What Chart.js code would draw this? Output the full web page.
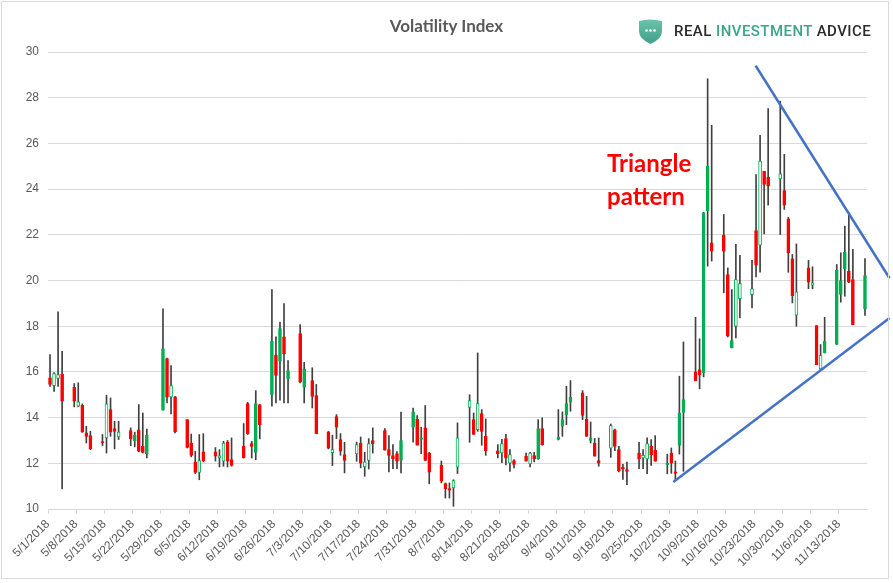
<!DOCTYPE html>
<html>
<head>
<meta charset="utf-8">
<script src="https://cdn.jsdelivr.net/npm/chart.js@4.4.1/dist/chart.umd.min.js"></script>
<style>
  html, body { margin: 0; padding: 0; background: #fff; }
  #wrap { position: relative; width: 893px; height: 583px; overflow: hidden; background: #fff; }
  #frame { position: absolute; left: 1px; top: 1px; width: 886px; height: 576px; border: 1px solid #d9d9d9; pointer-events: none; }
  #chart { position: absolute; left: 0; top: 0; }
  #title { position: absolute; left: 0; top: 15px; width: 893px; text-align: center; font: bold 17px Lato, "Open Sans", sans-serif; color: #595959; }
  #logo { position: absolute; left: 637px; top: 19px; height: 25px; }
  #logotext { position: absolute; left: 674px; top: 22px; font: 500 15px Roboto, sans-serif; letter-spacing: 0.45px; color: #2b2b2b; white-space: nowrap; }
  #logotext span { color: #3aa58a; }
  #note { position: absolute; left: 607px; top: 146px; font: bold 24px Lato, "Liberation Sans", sans-serif; color: #ff0000; line-height: 33px; }
</style>
</head>
<body>
<div id="wrap">
  <canvas id="chart" width="893" height="583"></canvas>
  <div id="title">Volatility Index</div>
  <svg id="logo" width="27" height="25" viewBox="0 0 27 25">
    <defs>
      <linearGradient id="g" x1="0" y1="0" x2="0" y2="1">
        <stop offset="0" stop-color="#69c4aa"/>
        <stop offset="1" stop-color="#3f9f88"/>
      </linearGradient>
    </defs>
    <path d="M2 2 Q13 -1 25 2 L25 12 Q25 20 13.5 25 Q2 20 2 12 Z" fill="url(#g)"/>
    <circle cx="9.5" cy="11.5" r="1.3" fill="#fff"/>
    <circle cx="13.5" cy="11.5" r="1.3" fill="#fff"/>
    <circle cx="17.5" cy="11.5" r="1.3" fill="#fff"/>
  </svg>
  <div id="logotext">REAL <span>INVESTMENT</span> ADVICE</div>
  <div id="note">Triangle<br>pattern</div>
  <div id="frame"></div>
</div>
<script>
// ---- Data ----
const year = 2018;
const dates = [
  '5/1','5/2','5/3','5/4','5/7','5/8','5/9','5/10','5/11','5/14','5/15','5/16','5/17','5/18',
  '5/21','5/22','5/23','5/24','5/25','5/29','5/30','5/31','6/1','6/4','6/5','6/6','6/7','6/8',
  '6/11','6/12','6/13','6/14','6/15','6/18','6/19','6/20','6/21','6/22','6/25','6/26','6/27','6/28','6/29',
  '7/2','7/3','7/5','7/6','7/9','7/10','7/11','7/12','7/13','7/16','7/17','7/18','7/19','7/20',
  '7/23','7/24','7/25','7/26','7/27','7/30','7/31','8/1','8/2','8/3','8/6','8/7','8/8','8/9','8/10',
  '8/13','8/14','8/15','8/16','8/17','8/20','8/21','8/22','8/23','8/24','8/27','8/28','8/29','8/30','8/31',
  '9/4','9/5','9/6','9/7','9/10','9/11','9/12','9/13','9/14','9/17','9/18','9/19','9/20','9/21',
  '9/24','9/25','9/26','9/27','9/28','10/1','10/2','10/3','10/4','10/5','10/8','10/9','10/10','10/11','10/12',
  '10/15','10/16','10/17','10/18','10/19','10/22','10/23','10/24','10/25','10/26','10/29','10/30','10/31','11/1','11/2',
  '11/5','11/6','11/7','11/8','11/9','11/12','11/13','11/14','11/15','11/16','11/19'
];
const open = [
  15.74,15.40,15.72,15.91,15.33,14.50,14.54,13.33,13.21,12.95,13.11,14.35,13.52,13.15,
  13.43,12.99,13.47,12.74,12.42,14.32,16.58,14.91,14.91,13.91,12.89,12.06,11.60,12.50,
  12.50,12.23,12.09,12.93,12.16,12.74,14.61,12.86,12.48,14.57,15.00,16.72,16.47,17.53,15.69,
  17.68,15.33,15.62,14.96,13.37,12.47,14.04,13.04,12.38,12.41,12.88,11.84,12.13,12.99,
  13.43,12.60,12.34,12.42,12.13,13.58,13.94,13.04,13.55,12.45,11.91,11.11,10.89,10.92,11.83,
  14.45,13.91,13.47,14.18,13.18,12.55,12.45,13.08,12.01,12.12,12.31,11.97,12.34,12.20,13.52,
  13.04,13.62,14.13,14.67,15.08,13.94,13.00,12.88,12.12,12.66,13.47,12.60,11.82,11.72,
  12.45,12.23,12.19,12.74,12.57,11.94,12.45,11.63,12.78,14.23,16.00,16.10,15.96,23.04,21.65,
  21.99,20.26,17.05,18.00,19.20,19.39,22.19,21.55,24.78,24.53,24.45,23.94,22.70,20.95,18.48,
  20.55,19.80,18.03,16.13,16.83,17.20,19.39,20.51,20.41,20.04,18.76
];
const high = [
  16.76,15.97,18.63,16.90,15.49,15.52,14.60,13.62,13.40,13.26,14.98,14.86,13.84,13.84,
  13.55,13.36,14.57,14.20,13.50,18.76,16.61,16.28,14.93,13.91,13.28,12.53,13.26,13.30,
  12.69,12.60,12.96,13.00,13.11,13.74,14.67,12.96,15.18,14.57,19.60,17.53,18.18,18.99,16.50,
  18.07,16.42,16.18,15.45,13.40,13.23,14.13,13.30,12.92,12.93,13.15,12.48,13.08,13.55,
  13.52,13.21,12.82,12.51,14.24,14.42,14.09,13.58,14.53,12.48,12.10,11.14,11.14,11.28,13.77,
  15.00,14.20,16.83,14.35,13.94,12.82,13.05,13.27,12.60,12.16,12.45,12.48,12.48,13.91,13.99,
  14.35,14.25,15.37,15.62,15.18,14.93,13.81,13.09,13.11,13.72,13.50,12.74,11.96,12.05,
  12.92,12.60,13.11,13.04,13.21,12.40,12.67,12.10,15.81,17.31,18.39,17.45,22.99,28.83,26.79,
  22.89,20.55,19.60,21.58,21.10,20.88,24.64,26.35,24.78,27.52,27.85,25.52,22.77,21.14,21.60,
  20.88,20.60,18.03,17.20,18.39,20.70,21.21,22.38,22.96,21.36,20.96
];
const low = [
  15.37,15.15,15.37,10.88,14.47,14.47,13.36,12.89,12.60,12.77,12.45,13.18,12.63,13.04,
  12.77,12.72,12.50,12.45,12.23,14.32,14.64,14.16,13.33,12.67,12.28,11.55,11.28,12.06,
  12.10,11.84,11.87,11.84,11.87,12.23,13.26,12.23,12.16,13.07,14.50,14.64,14.76,14.64,14.64,
  15.52,14.64,14.42,13.30,12.63,11.90,13.08,12.35,11.58,12.09,11.80,11.43,11.75,12.45,
  12.57,11.62,11.77,11.77,11.58,12.92,12.79,12.42,12.11,11.10,11.14,10.48,10.48,10.12,11.55,
  12.92,13.26,13.40,12.79,12.35,12.23,12.03,11.93,11.64,11.80,12.09,11.84,12.06,12.17,12.79,
  13.02,13.18,13.69,14.28,13.91,13.18,12.89,12.31,11.87,12.26,12.55,11.62,11.30,11.07,
  11.77,11.77,11.55,11.91,12.09,11.54,11.56,11.25,12.40,11.65,15.62,15.26,15.78,20.63,20.85,
  19.46,17.53,17.05,17.49,18.36,18.80,20.16,20.37,22.04,23.30,22.01,23.11,20.36,19.02,18.00,
  19.64,19.64,16.32,16.10,16.83,17.20,19.05,19.31,19.90,18.07,18.47
];
const close = [
  15.45,15.93,15.88,14.72,14.72,14.69,13.36,13.18,12.63,12.89,14.60,13.36,13.40,13.37,
  13.07,13.23,12.53,12.48,13.23,17.01,14.89,15.40,13.37,12.70,12.35,11.60,12.12,12.12,
  12.31,12.33,12.89,12.09,11.91,12.23,13.30,12.74,14.61,13.69,17.34,15.85,17.90,16.80,16.06,
  15.55,16.13,14.93,13.30,12.66,12.60,13.58,12.53,12.13,12.82,12.01,12.06,12.86,12.85,
  12.57,12.35,12.20,12.09,12.99,14.25,12.79,13.12,12.13,11.61,11.22,10.88,10.82,11.24,13.12,
  14.74,13.26,14.61,13.40,12.55,12.42,12.86,12.22,12.38,11.95,12.09,12.45,12.20,13.52,12.82,
  13.14,13.91,14.61,14.89,14.10,13.18,13.11,12.31,12.01,13.65,12.74,11.68,11.75,11.64,
  12.19,12.35,12.86,12.38,12.09,12.00,12.01,11.56,14.20,14.79,15.62,15.88,22.96,25.01,21.28,
  21.28,17.56,17.37,20.04,19.87,19.64,20.67,25.23,24.20,24.13,24.67,23.30,21.21,19.34,19.50,
  19.93,19.90,16.32,16.72,17.34,20.44,20.00,21.24,19.93,18.07,20.22
];
// Up days that the reference draws as hollow (outlined) candles
const hollowDates = ['5/2','5/3','5/8','5/15','5/18','5/31','6/7','6/12','6/13','7/10','7/16','7/18','7/19',
  '8/9','8/10','8/13','8/15','8/21','8/23','8/28','9/17','9/25','9/26','10/18','10/19','10/22','10/24',
  '10/29','11/2','11/6','11/8'];
const tickLabels = ['5/1/2018','5/8/2018','5/15/2018','5/22/2018','5/29/2018','6/5/2018','6/12/2018',
  '6/19/2018','6/26/2018','7/3/2018','7/10/2018','7/17/2018','7/24/2018','7/31/2018','8/7/2018',
  '8/14/2018','8/21/2018','8/28/2018','9/4/2018','9/11/2018','9/18/2018','9/25/2018','10/2/2018',
  '10/9/2018','10/16/2018','10/23/2018','10/30/2018','11/6/2018','11/13/2018'];
const axisStart = '5/1', axisEnd = '11/20';
// Hand-drawn triangle trend lines: [day offset from 5/1, VIX level]
const upperTrend = [[175.4, 29.4], [208.6, 20.1]];
const lowerTrend = [[155.0, 11.18], [208.6, 18.36]];

// ---- Build ----
const GREEN = '#00b050', RED = '#ff0000', WICK = '#404040';
function dayIndex(s) {
  const p = s.split('/').map(Number);
  return Math.round((Date.UTC(p[2] || year, p[0] - 1, p[1]) - Date.UTC(year, 4, 1)) / 86400000);
}
const xs = dates.map(d => dayIndex(d) + 0.5);
const wickData = dates.map((d, i) => ({ x: xs[i], y: [low[i], high[i]] }));
const bodyData = dates.map((d, i) => ({ x: xs[i], y: [open[i], close[i]] }));
const bodyFill = dates.map((d, i) => close[i] < open[i] ? RED : (hollowDates.includes(d) ? '#ffffff' : GREEN));
const bodyBorder = dates.map((d, i) => close[i] < open[i] ? RED : GREEN);
const tickValues = tickLabels.map(dayIndex);

new Chart(document.getElementById('chart'), {
  data: {
    datasets: [
      { type: 'line', data: upperTrend.map(p => ({ x: p[0], y: p[1] })), borderColor: '#4472c4', borderWidth: 2.5,
        pointRadius: 0, clip: false, order: -1 },
      { type: 'line', data: lowerTrend.map(p => ({ x: p[0], y: p[1] })), borderColor: '#4472c4', borderWidth: 2.5,
        pointRadius: 0, clip: false, order: -1 },
      { type: 'bar', data: bodyData, backgroundColor: bodyFill, borderColor: bodyBorder, borderWidth: 1,
        borderSkipped: false, barThickness: 3, grouped: false, order: 0, minBarLength: 1 },
      { type: 'bar', data: wickData, backgroundColor: WICK, barThickness: 1, grouped: false, order: 1 }
    ]
  },
  options: {
    responsive: false, animation: false, events: [],
    layout: { padding: { left: 0, top: 52, right: 26, bottom: 0 } },
    plugins: { legend: { display: false }, tooltip: { enabled: false }, title: { display: false } },
    scales: {
      x: {
        type: 'linear', offset: false, min: dayIndex(axisStart), max: dayIndex(axisEnd),
        afterBuildTicks: s => { s.ticks = tickValues.map(v => ({ value: v })); },
        afterFit: s => { s.height = 74; },
        ticks: {
          autoSkip: false, minRotation: 45, maxRotation: 45, padding: 3,
          color: '#595959', font: { family: 'Liberation Sans', size: 12 },
          callback: (v) => { const i = tickValues.indexOf(v); return i >= 0 ? tickLabels[i] : ''; }
        },
        grid: { display: true, offset: false, drawOnChartArea: false, drawTicks: true, tickLength: 5, color: '#d9d9d9' },
        border: { display: true, color: '#d9d9d9' }
      },
      y: {
        min: 10, max: 30,
        afterFit: s => { s.width = 48; },
        ticks: { stepSize: 2, padding: 9, color: '#595959', font: { family: 'Liberation Sans', size: 12 } },
        grid: { color: '#d9d9d9', drawTicks: false },
        border: { display: false }
      }
    }
  }
});
</script>
</body>
</html>
